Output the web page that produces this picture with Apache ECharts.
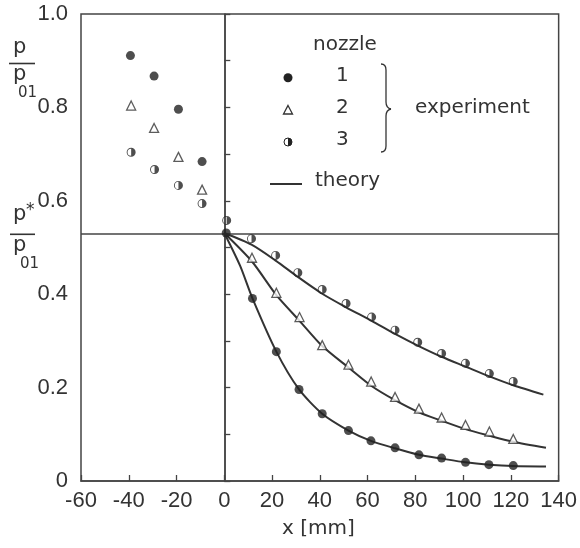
<!DOCTYPE html>
<html>
<head>
<meta charset="utf-8">
<script src="https://cdn.jsdelivr.net/npm/echarts@6/dist/echarts.min.js"></script>
<style>html,body{margin:0;padding:0;background:#fff;}#c{width:580px;height:548px;}</style>
</head>
<body>
<div id="c"></div>
<script>
// x [mm], p/p01
const nozzle1 = [[-39.3,0.911],[-29.4,0.867],[-19.2,0.796],[-9.3,0.684],[0.8,0.531],[11.8,0.391],[21.8,0.277],[31.3,0.196],[41,0.144],[52,0.108],[61.4,0.086],[71.5,0.071],[81.5,0.056],[91,0.049],[101,0.040],[110.8,0.035],[121,0.033]];
const nozzle2 = [[-39,0.804],[-29.4,0.756],[-19.2,0.694],[-9.3,0.624],[11.6,0.478],[21.8,0.403],[31.5,0.351],[41,0.291],[52,0.249],[61.5,0.213],[71.5,0.180],[81.5,0.155],[91,0.136],[101,0.120],[111,0.106],[121,0.090]];
const nozzle3 = [[-39,0.704],[-29.2,0.667],[-19.2,0.633],[-9.3,0.594],[1.0,0.558],[11.4,0.519],[21.5,0.483],[30.8,0.446],[41,0.410],[51,0.380],[61.7,0.351],[71.5,0.323],[81,0.297],[91,0.273],[101,0.252],[111,0.230],[121,0.213]];
const theory1 = [[0,0.531],[6.6,0.461],[11.8,0.391],[21.8,0.277],[31.3,0.196],[41,0.144],[52,0.108],[61.4,0.086],[71.5,0.070],[81.5,0.056],[91,0.048],[101,0.040],[110.8,0.035],[121,0.032],[134.7,0.031]];
const theory2 = [[0,0.531],[11.6,0.470],[21.8,0.398],[31.5,0.343],[41,0.289],[52,0.243],[61.5,0.204],[71.5,0.173],[81.5,0.147],[91,0.129],[101,0.111],[111,0.097],[121,0.084],[134.7,0.071]];
const theory3 = [[0,0.531],[11.4,0.506],[21.5,0.472],[30.8,0.437],[41,0.401],[51,0.372],[61.7,0.343],[71.5,0.315],[81,0.290],[91,0.266],[101,0.245],[111,0.224],[121,0.205],[133.6,0.185]];
const criticalRatio = 0.53;
const xTicks = {min: -60, max: 140, step: 20};
const yTicks = {min: 0, max: 1, step: 0.1};

const ink = '#333';
const tickFont = "'Liberation Sans',sans-serif";
const textFont = "'DejaVu Sans',sans-serif";
const halfPath = 'path://M0,-10A10,10 0 1,1 0,10A10,10 0 1,1 0,-10ZM0,-8A8,8 0 1,0 0,8A8,8 0 1,0 0,-8ZM0,-8A8,8 0 0,1 0,8Z';

const chart = echarts.init(document.getElementById('c'), null, {renderer: 'canvas'});
const lineSeries = (data) => ({
  type: 'line', data, smooth: 0.25, showSymbol: false, silent: true,
  lineStyle: {color: ink, width: 2}, z: 2
});
const t1 = lineSeries(theory1);
t1.markLine = {
  silent: true, symbol: ['none','none'], label: {show: false},
  lineStyle: {color: '#444', width: 1.5, type: 'solid'},
  data: [{yAxis: criticalRatio}, {xAxis: 0}]
};
const txt = (left, top, text, size) => ({type: 'text', left, top, style: {text, font: size + 'px ' + textFont, fill: ink}});
const seg = (x1, y1, x2, y2, w) => ({type: 'line', shape: {x1, y1, x2, y2}, style: {stroke: ink, lineWidth: w}});
const curve = (x1, y1, cpx1, cpy1, x2, y2) => ({type: 'bezierCurve', shape: {x1, y1, cpx1, cpy1, x2, y2}, style: {stroke: ink, lineWidth: 1.3, fill: null}});
chart.setOption({
  animation: false,
  backgroundColor: '#fff',
  grid: {left: 81, right: 20, top: 14, bottom: 67, show: true, borderColor: '#444', borderWidth: 1.5},
  xAxis: {
    type: 'value', min: xTicks.min, max: xTicks.max, interval: xTicks.step,
    axisLine: {show: true, lineStyle: {color: '#444', width: 1.5}},
    axisTick: {show: true, inside: true, length: 6, lineStyle: {color: '#444', width: 1.3}},
    splitLine: {show: false},
    axisLabel: {fontFamily: tickFont, fontSize: 22, color: '#333', margin: 9}
  },
  yAxis: {
    type: 'value', min: yTicks.min, max: yTicks.max, interval: yTicks.step,
    axisLine: {show: true, lineStyle: {color: '#444', width: 1.5}},
    axisTick: {show: true, inside: true, length: 6, lineStyle: {color: '#444', width: 1.3}},
    splitLine: {show: false},
    axisLabel: {
      fontFamily: tickFont, fontSize: 22, color: '#333', margin: 13,
      formatter: (v) => {
        const k = Math.round(v * 10);
        if (k % 2 !== 0) return '';
        if (k === 0) return '0';
        return (k / 10).toFixed(1);
      }
    }
  },
  series: [
    t1, lineSeries(theory2), lineSeries(theory3),
    {type: 'scatter', data: nozzle1, symbol: 'circle', symbolSize: 9, itemStyle: {color: '#222'}, z: 5},
    {type: 'scatter', data: nozzle2, symbol: 'triangle', symbolSize: 9, itemStyle: {color: '#fff', borderColor: '#333', borderWidth: 1.3}, z: 5},
    {type: 'scatter', data: nozzle3, symbol: halfPath, symbolSize: 9, itemStyle: {color: '#222'}, z: 5}
  ],
  graphic: [
    txt(13, 37, 'p', 21),
    seg(9, 63.5, 35, 63.5, 1.6),
    txt(13, 64, 'p', 21),
    txt(18, 86, '01', 15),
    txt(13, 204, 'p', 21),
    txt(26, 202, '*', 17),
    seg(10, 234.3, 35, 234.3, 1.6),
    txt(13, 235, 'p', 21),
    txt(20, 257, '01', 15),
    txt(282, 519, 'x [mm]', 20),
    txt(313, 35, 'nozzle', 20),
    {type: 'circle', shape: {cx: 288, cy: 77.7, r: 4.5}, style: {fill: '#222'}},
    txt(336, 66, '1', 20),
    {type: 'polygon', shape: {points: [[288, 105.5], [292.5, 114], [283.5, 114]]}, style: {fill: '#fff', stroke: '#333', lineWidth: 1.3}},
    txt(336, 98, '2', 20),
    {type: 'circle', shape: {cx: 288, cy: 142, r: 4}, style: {fill: '#fff', stroke: '#222', lineWidth: 1}},
    {type: 'sector', shape: {cx: 288, cy: 142, r: 4, startAngle: -Math.PI / 2, endAngle: Math.PI / 2}, style: {fill: '#222'}},
    txt(336, 130, '3', 20),
    curve(381, 64, 386, 64, 386, 70),
    seg(386, 70, 386, 102, 1.3),
    curve(386, 102, 386, 108, 391, 109),
    curve(391, 109, 386, 110, 386, 116),
    seg(386, 116, 386, 146, 1.3),
    curve(386, 146, 386, 152, 381, 152),
    txt(415, 98, 'experiment', 20),
    seg(270, 184, 302, 184, 2),
    txt(315, 171, 'theory', 20)
  ]
});
</script>
</body>
</html>
